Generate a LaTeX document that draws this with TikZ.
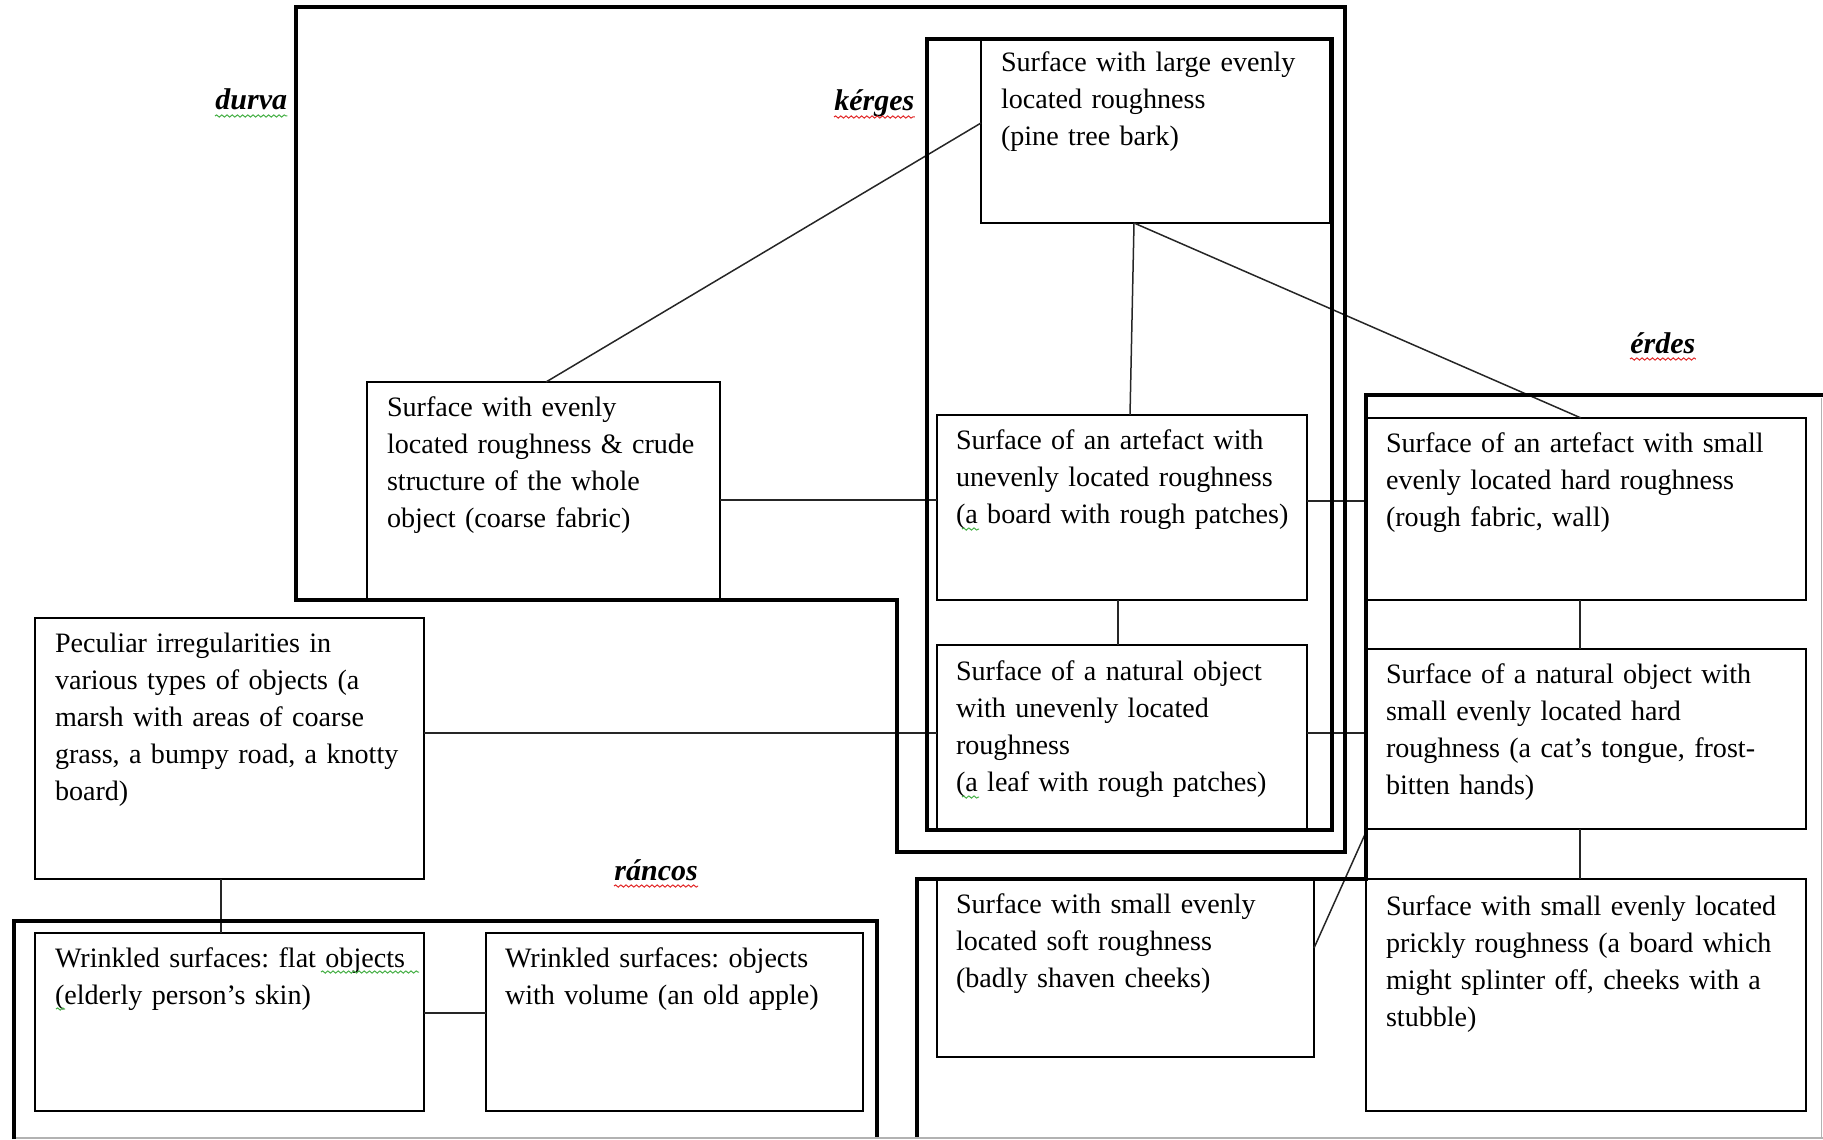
\documentclass[tikz,border=0pt]{standalone}
\usepackage{fontspec}
\setmainfont{Liberation Serif}
\usetikzlibrary{fit,calc,decorations.pathmorphing}
\definecolor{sqred}{RGB}{225,40,40}
\definecolor{sqgreen}{RGB}{70,175,70}
\newcommand\dbox[5]{\coordinate (#1a) at (#2,#3); \coordinate (#1b) at (#4,#5); \node[boxst, fit=(#1a)(#1b)] (#1) {};}
\frenchspacing
\begin{document}
\begin{tikzpicture}[x=0.5pt,y=-0.5pt,
  region/.style={draw=black, line width=2.2pt, line join=miter},
  boxst/.style={draw=black, line width=1pt, inner sep=0pt, outer sep=0pt, rectangle},
  txt/.style={font=\fontsize{14.05pt}{18.5pt}\selectfont\frenchspacing, text width=260pt, align=left, inner sep=0pt, outer sep=0pt, anchor=base west},
  lbl/.style={font=\fontsize{15pt}{17pt}\selectfont\bfseries\itshape, inner sep=0pt, anchor=base west},
  conn/.style={draw=black!85, line width=0.75pt},
  squig/.style={decorate, decoration={snake, amplitude=0.55pt, segment length=2.6pt}, line width=0.5pt},
  edge/.style={draw=black!30, line width=0.6pt}]
\useasboundingbox (0,0) rectangle (1823,1139);

% boxes
\dbox{pine}{981}{38}{1330}{223}
\dbox{coarse}{367}{382}{720}{600}
\dbox{ka}{937}{415}{1307}{600}
\dbox{kn}{937}{645}{1307}{830}
\dbox{ea}{1367}{418}{1806}{600}
\dbox{en}{1367}{649}{1806}{829}
\dbox{pr}{1366}{879}{1806}{1111}
\dbox{soft}{937}{879}{1314}{1057}
\dbox{pec}{35}{618}{424}{879}
\dbox{flat}{35}{933}{424}{1111}
\dbox{vol}{486}{933}{863}{1111}

% texts
\node[txt] (pinet) at ($(pine.north west)+(20,34)$) {Surface with large evenly\\located roughness\\(pine tree bark)};
\node[txt] (coarset) at ($(coarse.north west)+(20,34)$) {Surface with evenly\\located roughness \& crude\\structure of the whole\\object (coarse fabric)};
\node[txt] (kat) at ($(ka.north west)+(19,34)$) {Surface of an artefact with\\unevenly located roughness\\(a board with rough patches)};
\node[txt] (knt) at ($(kn.north west)+(19,35)$) {Surface of a natural object\\with unevenly located\\roughness\\(a leaf with rough patches)};
\node[txt] (eat) at ($(ea.north west)+(19,34)$) {Surface of an artefact with small\\evenly located hard roughness\\(rough fabric, wall)};
\node[txt] (ent) at ($(en.north west)+(19,34)$) {Surface of a natural object with\\small evenly located hard\\roughness (a cat’s tongue, frost-\\bitten hands)};
\node[txt] (prt) at ($(pr.north west)+(20,36)$) {Surface with small evenly located\\prickly roughness (a board which\\might splinter off, cheeks with a\\stubble)};
\node[txt] (softt) at ($(soft.north west)+(19,34)$) {Surface with small evenly\\located soft roughness\\(badly shaven cheeks)};
\node[txt] (pect) at ($(pec.north west)+(20,34)$) {Peculiar irregularities in\\various types of objects (a\\marsh with areas of coarse\\grass, a bumpy road, a knotty\\board)};
\node[txt] (flatt) at ($(flat.north west)+(20,34)$) {Wrinkled surfaces: flat objects\\(elderly person’s skin)};
\node[txt] (volt) at ($(vol.north west)+(19,34)$) {Wrinkled surfaces: objects\\with volume (an old apple)};

% region labels
\node[lbl] (durva) at (215,110) {durva};
\node[lbl] (kerges) at (834,111) {kérges};
\node[lbl] (erdes) at (1630,353) {érdes};
\node[lbl] (rancos) at (614,880) {ráncos};

% spell-check squiggles
\draw[squig, draw=sqgreen] ($(durva.base west)+(0,6)$) -- ($(durva.base east)+(0,6)$);
\draw[squig, draw=sqred] ($(kerges.base west)+(0,6)$) -- ($(kerges.base east)+(0,6)$);
\draw[squig, draw=sqred] ($(erdes.base west)+(0,6)$) -- ($(erdes.base east)+(0,6)$);
\draw[squig, draw=sqred] ($(rancos.base west)+(0,6)$) -- ($(rancos.base east)+(0,6)$);
\draw[squig, draw=sqgreen] ($(kat.base west)+(6,80)$) -- ($(kat.base west)+(23,80)$);
\draw[squig, draw=sqgreen] ($(knt.base west)+(6,117)$) -- ($(knt.base west)+(23,117)$);
\draw[squig, draw=sqgreen] ($(flatt.base west)+(266,5)$) -- ($(flatt.base west)+(364,5)$);
\draw[squig, draw=sqgreen] ($(flatt.base west)+(1,42)$) -- ($(flatt.base west)+(10,42)$);

% connectors
\draw[conn] ($(coarse.north west)+(179,0)$) -- ($(pine.north west)+(0,85)$);
\draw[conn] ($(coarse.north east)+(0,118)$) -- ($(ka.north west)+(0,85)$);
\draw[conn] ($(pine.south west)+(153,0)$) -- ($(ka.north west)+(193,0)$);
\draw[conn] ($(pine.south west)+(153,0)$) -- ($(ea.north west)+(214,0)$);
\draw[conn] ($(ka.north east)+(0,86)$) -- ($(ea.north west)+(0,83)$);
\draw[conn] ($(ka.south west)+(181,0)$) -- ($(kn.north west)+(181,0)$);
\draw[conn] ($(pec.north east)+(0,115)$) -- ($(kn.north west)+(0,88)$);
\draw[conn] ($(kn.north east)+(0,88)$) -- ($(en.north west)+(0,84)$);
\draw[conn] ($(ea.south west)+(213,0)$) -- ($(en.north west)+(213,0)$);
\draw[conn] ($(en.south west)+(213,0)$) -- ($(pr.north west)+(214,0)$);
\draw[conn] ($(en.south west)+(-1,3)$) -- ($(soft.north east)+(0,69)$);
\draw[conn] ($(pec.south west)+(186,0)$) -- ($(flat.north west)+(186,0)$);
\draw[conn] ($(flat.north east)+(0,80)$) -- ($(vol.north west)+(0,80)$);

% regions
\draw[region] (296,7) -- (1345,7) -- (1345,852) -- (897,852) -- (897,600) -- (296,600) -- cycle;
\draw[region] (927,39) rectangle (1332,830);
\draw[region] (1823,395) -- (1366,395) -- (1366,879) -- (917,879) -- (917,1139);
\draw[region] (14,1139) -- (14,921) -- (877,921) -- (877,1139);

% faint page edges
\draw[edge] (16,1138) -- (1823,1138);
\draw[edge] (1821.5,398) -- (1821.5,1139);
\end{tikzpicture}
\end{document}
